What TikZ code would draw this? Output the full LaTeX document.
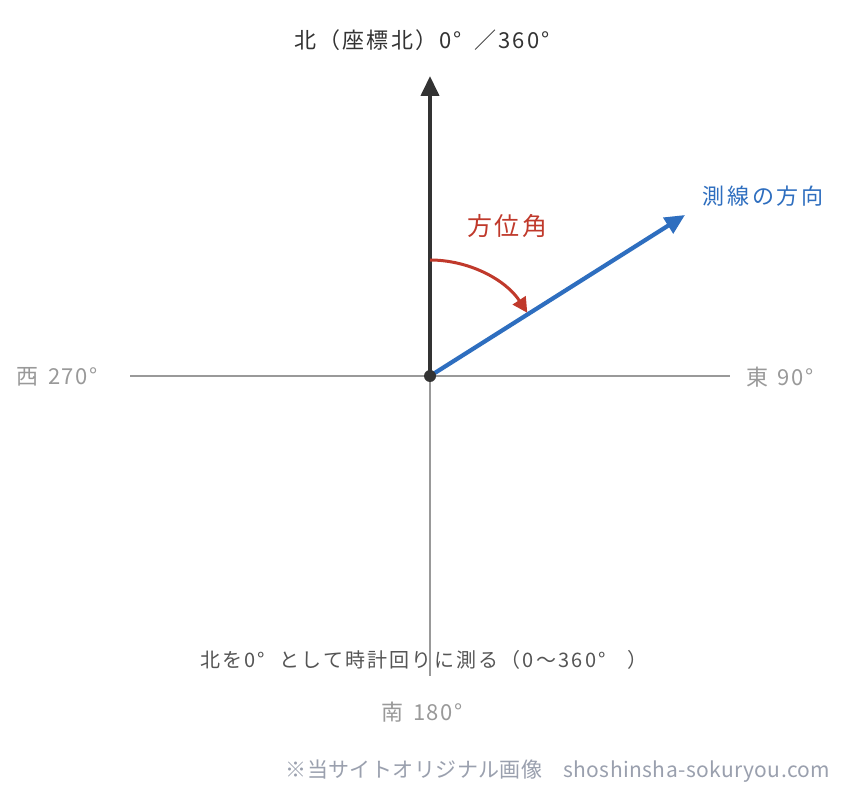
\documentclass[tikz,border=0pt]{standalone}
\usepackage{fontspec}
\setmainfont{Noto Sans CJK JP}
\usetikzlibrary{arrows.meta}
\definecolor{dk}{HTML}{333333}
\definecolor{ax}{HTML}{999999}
\definecolor{rd}{HTML}{C0392B}
\definecolor{bl}{HTML}{2E6EBF}
\definecolor{tx}{HTML}{555555}
\definecolor{wm}{HTML}{9AA0AE}
\newcommand{\fsz}[2]{\fontsize{#1}{#1}\selectfont\addfontfeature{LetterSpace=#2}}
\begin{document}
\begin{tikzpicture}[x=1pt,y=-1pt,
  lbl/.style={inner sep=0pt,anchor=center},
  axis/.style={draw=ax,line width=1.5pt}]
\useasboundingbox[fill=white] (0,0) rectangle (849,794);
\coordinate (O) at (430,376);
\coordinate (W) at (130,376);
\coordinate (E) at (730,376);
\coordinate (S) at (430,676);
\coordinate (N) at (430,76);
\coordinate (D) at (685,215);
\coordinate (A0) at (430,260);
\draw[axis] (W) -- (E);
\draw[axis,line width=1.2pt] (O) -- (S);
\draw[dk,line width=4pt,-{Triangle[length=20pt,width=18pt]}] (O) -- (N);
\draw[bl,line width=4.2pt,-{Triangle[length=20pt,width=18pt]}] (O) -- (D);
\draw[rd,line width=3pt,-{Triangle[length=15pt,width=15pt]}] (A0) arc[start angle=-90,end angle=-33,radius=116];
\fill[dk] (O) circle (6);
\node[lbl,text=dk,font=\fsz{22}{10}] (tN) at (422,40) {北（座標北）0°\hspace{12pt}／360°};
\node[lbl,text=rd,font=\fsz{25}{10}] (tA) at (507,226) {方位角};
\node[lbl,text=bl,font=\fsz{22}{12}] (tD) at (763,196) {測線の方向};
\node[lbl,text=ax,font=\fsz{22}{7}] (tW) at (57,377) {西\hspace{3pt} 270°};
\node[lbl,text=ax,font=\fsz{22}{7}] (tE) at (780,377) {東\hspace{3pt} 90°};
\node[lbl,text=ax,font=\fsz{22}{7}] (tS) at (422,712) {南\hspace{3pt} 180°};
\node[lbl,text=tx,font=\fsz{20}{11}] (tR) at (424,660) {北を0°\hspace{14pt}として時計回りに測る（0〜360°\hspace{22pt}）};
\node[lbl,text=wm,font=\fsz{21}{2}] (tC) at (558,771) {※当サイトオリジナル画像\quad shoshinsha-sokuryou.com};
\end{tikzpicture}
\end{document}
